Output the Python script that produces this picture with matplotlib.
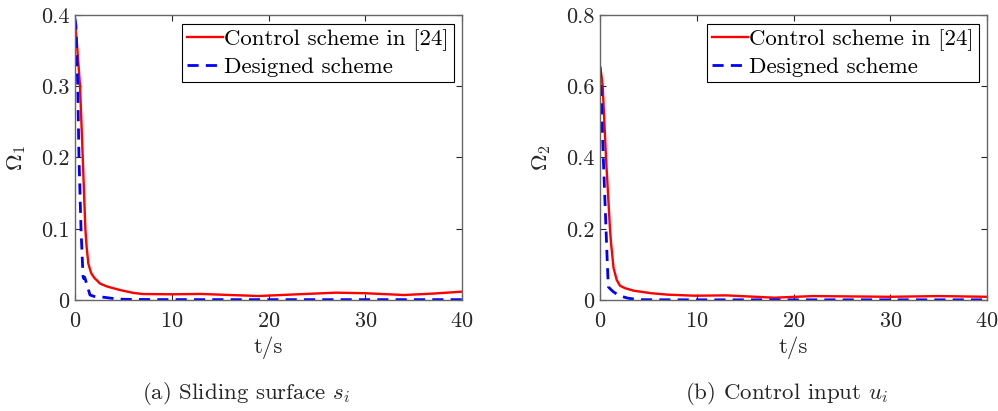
import numpy as np
import matplotlib
matplotlib.use('Agg')
import matplotlib.pyplot as plt
from matplotlib.ticker import FormatStrFormatter

plt.rcParams['font.family'] = ['cmr10', 'DejaVu Serif']
plt.rcParams['mathtext.fontset'] = 'cm'
plt.rcParams['axes.unicode_minus'] = False
plt.rcParams['axes.formatter.use_mathtext'] = True

# Panel (a): sliding surface
t_ref_a = [0, 0.2, 0.52, 0.8, 1.07, 1.2, 1.38, 1.55, 1.7, 2.0, 2.6, 3.3, 4.65, 6.0, 7.0,
           10, 13, 16, 19, 23, 27, 30, 34, 37, 40]
omega1_ref = [0.39, 0.36, 0.30, 0.20, 0.10, 0.075, 0.051, 0.043, 0.037, 0.031, 0.023, 0.019,
              0.014, 0.010, 0.0084, 0.008, 0.0085, 0.007, 0.0056, 0.008, 0.0103, 0.0095,
              0.007, 0.009, 0.0117]
t_des_a = [0, 0.1, 0.28, 0.41, 0.62, 0.83, 0.9, 1.0, 1.2, 1.55, 2.0, 2.9, 4.0, 5.0, 8, 15,
           25, 40]
omega1_des = [0.395, 0.385, 0.30, 0.20, 0.10, 0.033, 0.03, 0.032, 0.023, 0.007, 0.005,
              0.004, 0.002, 0.001, 0.0006, 0.0005, 0.0005, 0.0005]

# Panel (b): control input
t_ref_b = [0, 0.1, 0.28, 0.62, 1.03, 1.14, 1.4, 1.73, 2.07, 2.6, 3.5, 5.3, 7.0, 9.8, 13,
           18, 22, 26, 30, 35, 40]
omega2_ref = [0.655, 0.64, 0.60, 0.40, 0.20, 0.16, 0.09, 0.056, 0.04, 0.033, 0.026, 0.019,
              0.015, 0.012, 0.013, 0.0065, 0.011, 0.01, 0.009, 0.011, 0.009]
t_des_b = [0, 0.1, 0.34, 0.62, 0.76, 0.86, 1.1, 1.38, 2.0, 2.9, 4.0, 6, 10, 20, 30, 40]
omega2_des = [0.655, 0.60, 0.40, 0.20, 0.10, 0.037, 0.03, 0.023, 0.012, 0.005, 0.001,
              0.0006, 0.0005, 0.0005, 0.0005, 0.0005]

panels = [
    (t_ref_a, omega1_ref, t_des_a, omega1_des, r'$\Omega_1$', [0, 0.4],
     [0, 0.1, 0.2, 0.3, 0.4], r'(a) Sliding surface $s_i$', 75, 246),
    (t_ref_b, omega2_ref, t_des_b, omega2_des, r'$\Omega_2$', [0, 0.8],
     [0, 0.2, 0.4, 0.6, 0.8], r'(b) Control input $u_i$', 600, 787),
]

W, H = 998, 411
fig = plt.figure(figsize=(W / 100, H / 100), dpi=100)

for tr, yr, td, yd, ylab, ylim, yticks, caption, left_px, cap_x in panels:
    ax = fig.add_axes([left_px / W, (H - 300) / H, 387 / W, 285 / H])
    ax.plot(tr, yr, color='red', lw=1.7, label='Control scheme in [24]')
    ax.plot(td, yd, color='blue', lw=2.0, ls=(0, (4, 2.6)), label='Designed scheme')
    ax.set_xlim(0, 40)
    ax.set_ylim(*ylim)
    ax.set_xticks([0, 10, 20, 30, 40])
    ax.set_yticks(yticks)
    ax.yaxis.set_major_formatter(FormatStrFormatter('%g'))
    ax.tick_params(direction='in', top=True, right=True, length=4, width=0.8,
                   labelsize=16, colors='#262626', pad=8)
    ax.tick_params(axis='y', pad=4)
    for sp in ax.spines.values():
        sp.set_color('#666666')
        sp.set_linewidth(1.0)
    ax.set_xlabel('t/s', fontsize=16.5, labelpad=4, color='#262626')
    ax.set_ylabel(ylab, fontsize=16.5, labelpad=9, color='#262626')
    leg = ax.legend(loc='upper right', fontsize=16.5, frameon=True, fancybox=False,
                    edgecolor='black', framealpha=1, handlelength=1.6,
                    handletextpad=0.05, borderpad=0.22, labelspacing=0.3,
                    borderaxespad=0.0, bbox_to_anchor=(0.98, 0.97))
    leg.get_frame().set_linewidth(0.8)
    fig.text(cap_x / W, (H - 393) / H, caption, fontsize=16.5, ha='center', va='center',
             color='#262626')

fig.savefig('out.png', dpi=100)
